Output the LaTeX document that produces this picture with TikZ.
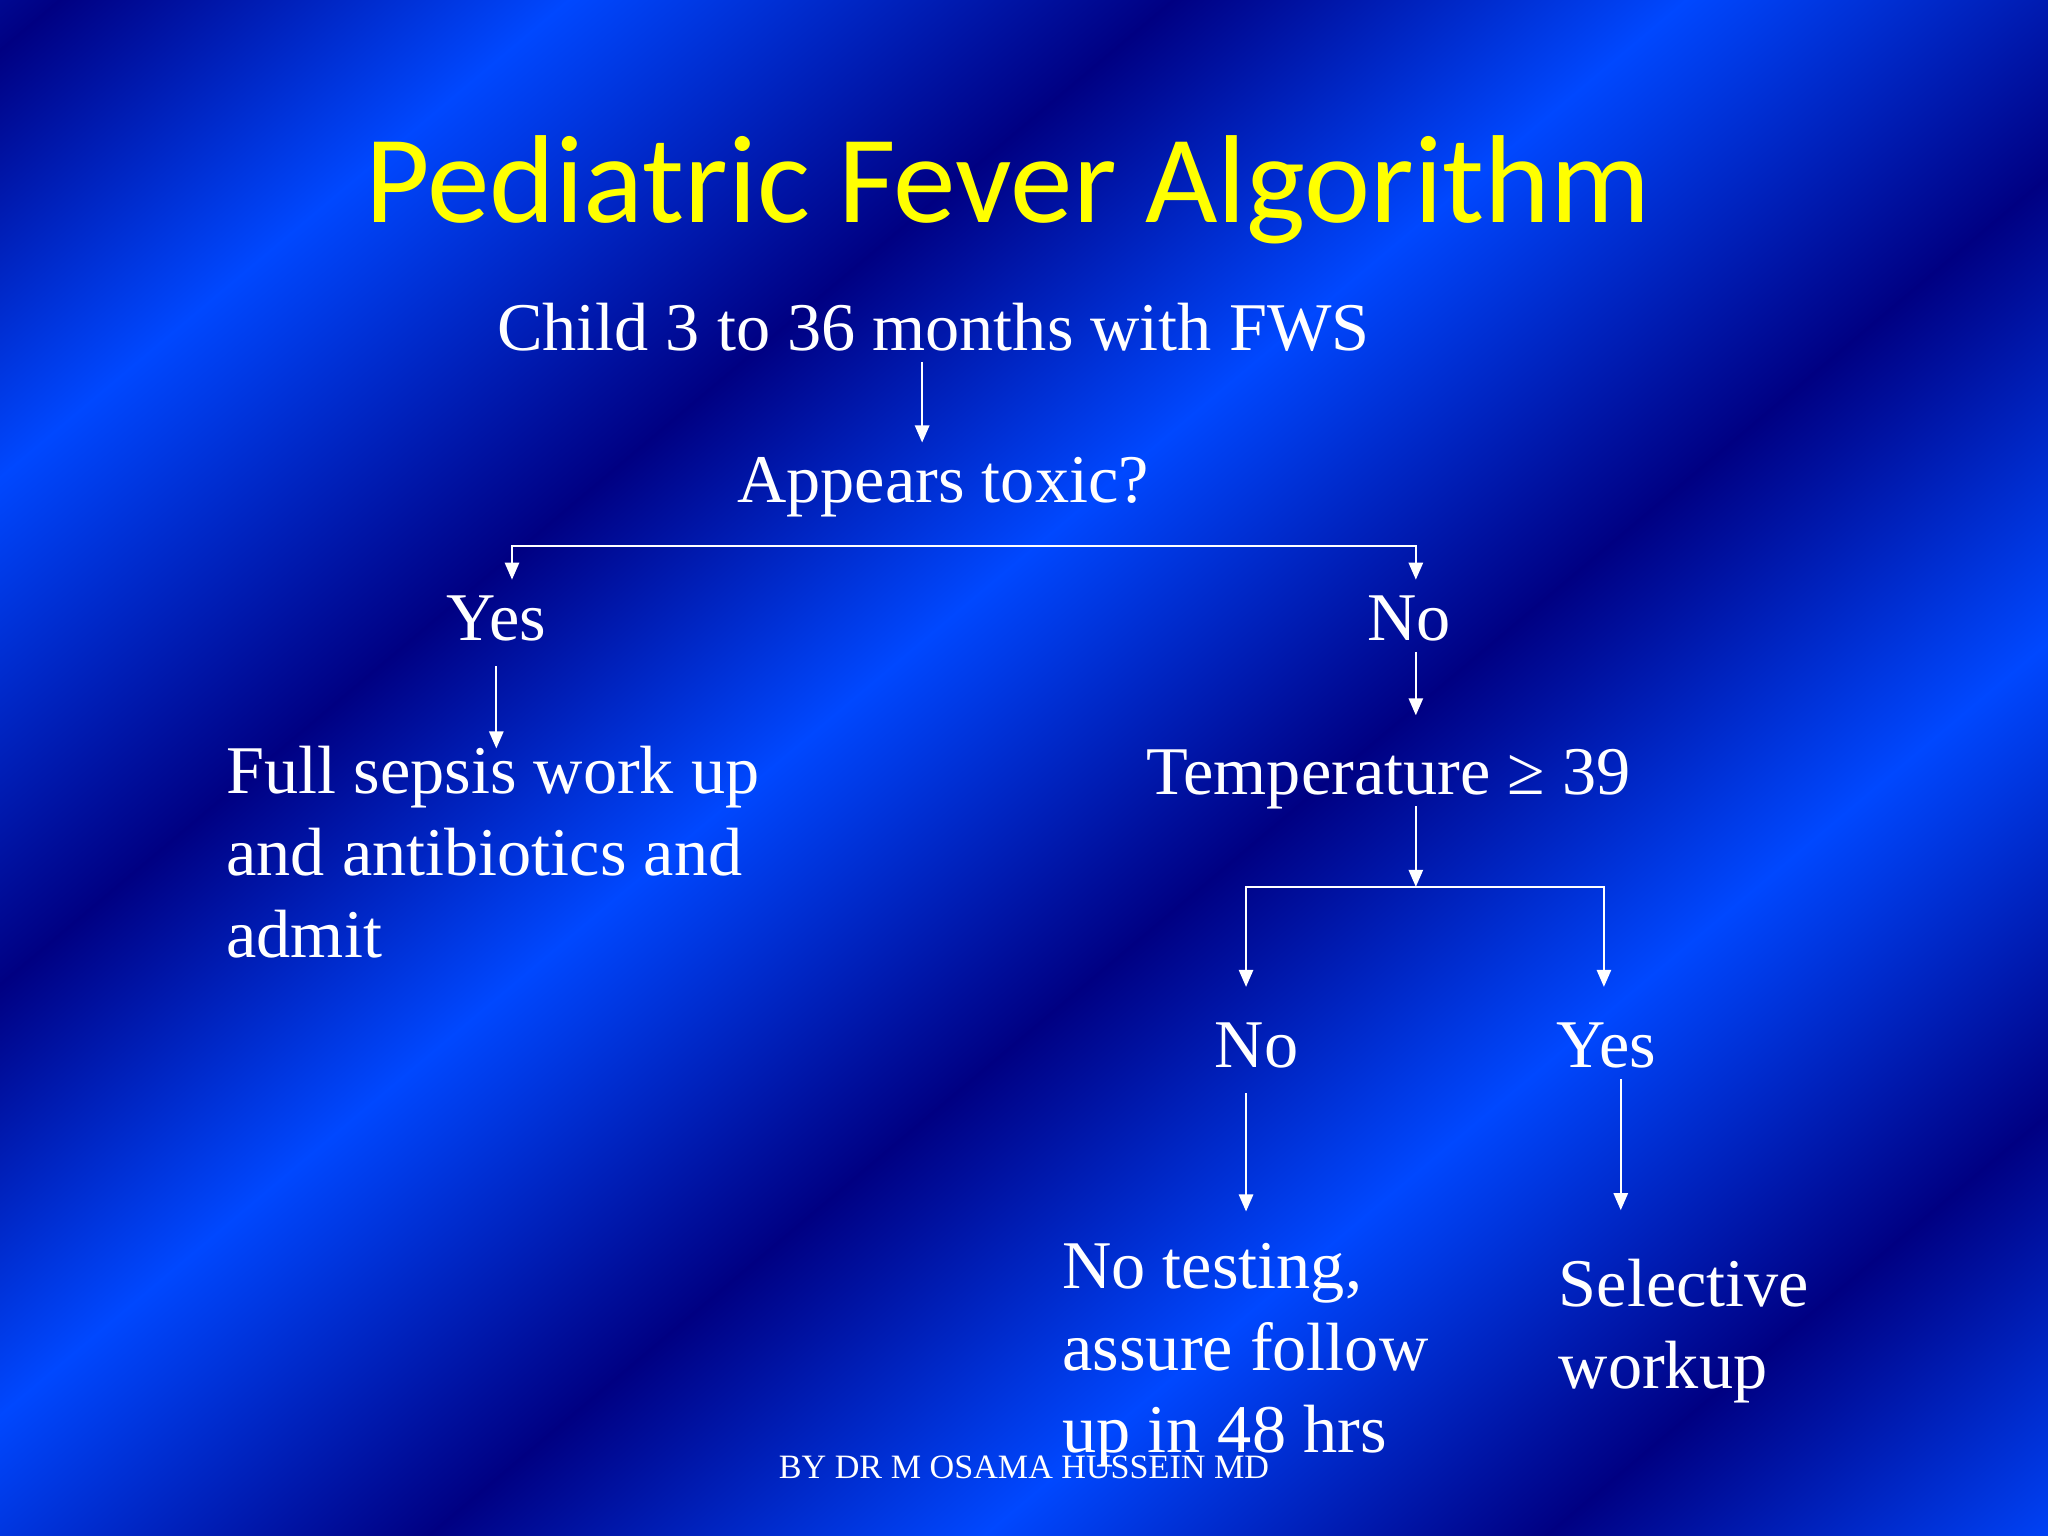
\documentclass[tikz,border=0pt]{standalone}
\usepackage{fontspec}
\setmainfont{Liberation Serif}
\newfontfamily\titlefont{Carlito}
\usetikzlibrary{arrows.meta}
\definecolor{banddk}{RGB}{0,0,130}
\definecolor{bandlt}{RGB}{0,72,255}
\definecolor{titleyellow}{RGB}{255,255,0}

\begin{document}
\begin{tikzpicture}[x=0.459184pt, y=-0.459184pt,
  lbl/.style={text=white, font=\fontsize{24}{28.8}\selectfont, inner sep=0pt, text height=21pt, text depth=4pt, anchor=base},
  blk/.style={text=white, font=\fontsize{24}{28.8}\selectfont, inner sep=0pt, align=left, anchor=base west},
  arr/.style={draw=white, line width=0.75pt, -{Triangle[width=5pt,length=6pt]}},
  arr2/.style={arr, {Triangle[width=5pt,length=6pt]}-{Triangle[width=5pt,length=6pt]}}]
\useasboundingbox (0,0) rectangle (1568,1176);
% background bands
\begin{scope}
\clip (0,0) rectangle (1568,1176);
\begin{scope}[transform canvas={rotate=-50}]
\foreach \a/\b/\ca/\cb in {-245/30/bandlt/banddk, 30/280/banddk/bandlt, 280/578/bandlt/banddk,
    578/830/banddk/bandlt, 830/1112/bandlt/banddk, 1112/1385/banddk/bandlt,
    1385/1662/bandlt/banddk, 1662/1930/banddk/bandlt, 1930/2200/bandlt/banddk}
  \shade[left color=\ca, right color=\cb] (\a-1,-1700) rectangle (\b+1,1700);
\end{scope}
\end{scope}
% texts
\node[font=\titlefont\fontsize{44}{52}\selectfont, text=titleyellow, anchor=base, inner sep=0pt] (title) at (771.5,170) {Pediatric Fever Algorithm};
\node[lbl] (child) at (714.5,268) {Child 3 to 36 months with FWS};
\node[lbl] (toxic) at (722,385) {Appears toxic?};
\node[lbl] (yes1) at (380,490) {Yes};
\node[lbl] (no1) at (1079,490) {No};
\node[blk] (sepsis) at (173,733) {Full sepsis work up\\and antibiotics and\\admit};
\node[lbl] (temp) at (1063,608) {Temperature ≥ 39};
\node[lbl] (no2) at (962,817) {No};
\node[lbl] (yes2) at (1230,817) {Yes};
\node[blk] (notest) at (813,1112) {No testing,\\assure follow\\up in 48 hrs};
\node[blk] (select) at (1193,1063) {Selective\\workup};
\node[font=\fontsize{12}{14}\selectfont, text=white, anchor=base, inner sep=0pt] (byline) at (784,1132) {BY DR M OSAMA HUSSEIN MD};
% branch points
\coordinate (childdrop) at ([xshift=-3.9pt]child.south);
\coordinate (yes2drop) at ([xshift=5pt]yes2.south);
\coordinate (bar1l) at (392,418);
\coordinate (bar1r) at (1084,418);
\coordinate (bar2m) at (1084,679);
\coordinate (bar2l) at (954,679);
\coordinate (bar2r) at (1228,679);
% connectors
\draw[arr] (childdrop) -- (childdrop |- toxic.north);
\draw[arr2] (bar1l |- yes1.north) -- (bar1l) -- (bar1r) -- (bar1r |- no1.north);
\draw[arr, shorten <=5pt, shorten >=-1pt] (yes1.south) -- (yes1.south |- sepsis.north);
\draw[arr, shorten >=6.5pt] (no1.south -| bar1r) -- (temp.north -| bar1r);
\draw[arr] (temp.south -| bar2m) -- (bar2m);
\draw[arr2, shorten <=7pt, shorten >=7pt] (bar2l |- no2.north) -- (bar2l) -- (bar2r) -- (bar2r |- yes2.north);
\draw[arr, shorten <=5pt, shorten >=11pt] (no2.south -| bar2l) -- (notest.north -| bar2l);
\draw[arr, shorten >=17pt] (yes2drop) -- (yes2drop |- select.north);
\end{tikzpicture}
\end{document}
